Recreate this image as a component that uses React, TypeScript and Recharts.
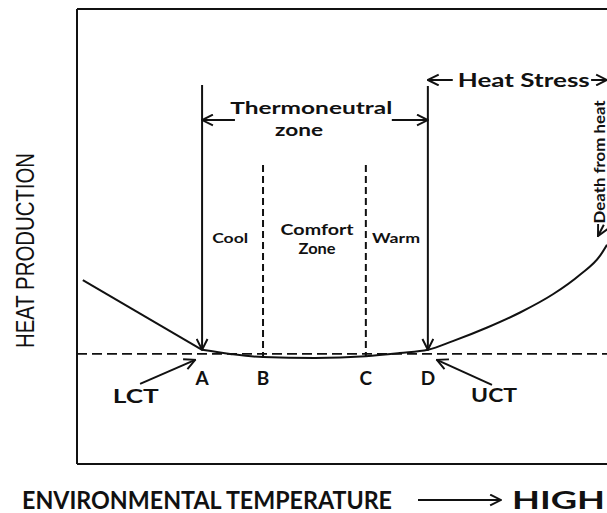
import { LineChart, Line, XAxis, YAxis, ReferenceLine, ReferenceDot, Label } from 'recharts'

// temperature index 0-100 (low -> high), heat production index 0-100
const coldSide = [
  { temp: 1.1, heat: 40.4 },
  { temp: 23.6, heat: 25.1 },
]

const neutralAndHot = [
  { temp: 23.6, heat: 25.1 },
  { temp: 28.9, heat: 24.2 },
  { temp: 35.1, heat: 23.5 },
  { temp: 44.9, heat: 23.3 },
  { temp: 54.5, heat: 23.7 },
  { temp: 60.9, heat: 24.4 },
  { temp: 66.2, heat: 25.1 },
  { temp: 70.9, heat: 27.0 },
  { temp: 77.4, heat: 30.0 },
  { temp: 83.6, heat: 33.3 },
  { temp: 89.8, heat: 37.3 },
  { temp: 94.9, heat: 41.6 },
  { temp: 98.7, heat: 45.8 },
  { temp: 100, heat: 48.2 },
]

const pointNames = ['A', 'B', 'C', 'D']
const pointTemps = [23.6, 35.1, 54.5, 66.2]
const pointHeats = [25.1, 23.5, 23.7, 25.1]
const baselineHeat = 24.2

const font = 'Lato, "Open Sans", sans-serif'

function tag(
  key: string,
  x: number,
  y: number,
  text: string,
  size: number,
  width?: number,
  angle?: number,
) {
  return (
    <ReferenceDot
      key={key}
      x={x}
      y={y}
      r={0}
      fill="none"
      stroke="none"
      ifOverflow="visible"
      label={
        <Label
          value={text}
          position="center"
          fontSize={size}
          fontWeight={700}
          fontFamily={font}
          fill="#111"
          angle={angle}
          textLength={width}
          lengthAdjust="spacingAndGlyphs"
        />
      }
    />
  )
}

function arrow(key: string, x1: number, y1: number, x2: number, y2: number, dashed = false) {
  return (
    <ReferenceLine
      key={key}
      segment={[
        { x: x1, y: y1 },
        { x: x2, y: y2 },
      ]}
      stroke="#111"
      strokeWidth={2}
      strokeDasharray={dashed ? '7 4' : undefined}
      ifOverflow="visible"
      markerEnd={dashed ? undefined : 'url(#openHead)'}
    />
  )
}

const xTitle = (props: any) => {
  const { x, y } = props.viewBox
  return (
    <g fontFamily={font} fontWeight={700} fill="#111">
      <text x={x - 55} y={y + 45} fontSize={24} textLength={370} lengthAdjust="spacingAndGlyphs">
        ENVIRONMENTAL TEMPERATURE
      </text>
      <line x1={x + 341} y1={y + 36} x2={x + 424} y2={y + 36} stroke="#111" strokeWidth={2} markerEnd="url(#openHead)" />
      <text x={x + 435} y={y + 45} fontSize={24} textLength={93} lengthAdjust="spacingAndGlyphs">
        HIGH
      </text>
    </g>
  )
}

const yTitle = (props: any) => {
  const { x, y, height } = props.viewBox
  const cx = x + 25
  const cy = y + height / 2 + 14
  return (
    <text
      x={cx}
      y={cy}
      transform={`rotate(-90 ${cx} ${cy})`}
      textAnchor="middle"
      dominantBaseline="central"
      fontFamily='"Liberation Sans", Arial, sans-serif'
      fontSize={25}
      fill="#111"
      textLength={195}
      lengthAdjust="spacingAndGlyphs"
    >
      HEAT PRODUCTION
    </text>
  )
}

export default function App() {
  return (
    <div style={{ position: 'absolute', left: 0, top: 0, background: '#fff' }}>
      <LineChart width={607} height={513} margin={{ top: 9, right: 0, bottom: 0, left: 0 }}>
        <defs>
          <marker
            id="openHead"
            viewBox="0 0 12 12"
            refX={11}
            refY={6}
            markerWidth={13}
            markerHeight={13}
            markerUnits="userSpaceOnUse"
            orient="auto"
          >
            <path d="M1,1 L11,6 L1,11" fill="none" stroke="#111" strokeWidth={1.8} />
          </marker>
        </defs>
        <XAxis
          type="number"
          dataKey="temp"
          domain={[0, 100]}
          allowDataOverflow
          height={49}
          tick={false}
          tickLine={false}
          axisLine={{ stroke: '#111', strokeWidth: 2 }}
          label={{ content: xTitle }}
        />
        <YAxis
          type="number"
          dataKey="heat"
          domain={[0, 100]}
          allowDataOverflow
          width={77}
          tick={false}
          tickLine={false}
          axisLine={{ stroke: '#111', strokeWidth: 2 }}
          label={{ content: yTitle }}
        />
        <ReferenceLine y={100} stroke="#111" strokeWidth={1.8} />
        <ReferenceLine y={baselineHeat} stroke="#111" strokeWidth={1.6} strokeDasharray="10 5" />

        {/* zone boundaries */}
        {arrow('lineA', pointTemps[0], 83.3, pointTemps[0], pointHeats[0])}
        {arrow('lineD', pointTemps[3], 83.1, pointTemps[3], pointHeats[3])}
        {arrow('lineB', pointTemps[1], 65.7, pointTemps[1], pointHeats[1], true)}
        {arrow('lineC', pointTemps[2], 65.7, pointTemps[2], pointHeats[2], true)}

        {/* thermoneutral and heat stress spans */}
        {arrow('tnLeft', 29.8, 75.6, pointTemps[0], 75.6)}
        {arrow('tnRight', 59.4, 75.6, pointTemps[3], 75.6)}
        {arrow('hsLeft', 70.9, 84.4, pointTemps[3], 84.4)}
        {arrow('hsRight', 97.0, 84.4, 100, 84.4)}

        {/* threshold pointers */}
        {arrow('lct', 11.9, 17.6, 22.3, 22.9)}
        {arrow('uct', 78.3, 17.4, 67.9, 22.9)}
        {arrow('death', 99.4, 52.6, 98.3, 50.1)}

        <Line data={coldSide} dataKey="heat" type="linear" stroke="#111" strokeWidth={2} dot={false} isAnimationActive={false} />
        <Line data={neutralAndHot} dataKey="heat" type="monotone" stroke="#111" strokeWidth={2} dot={false} isAnimationActive={false} />

        {tag('tn', 44.2, 78.2, 'Thermoneutral', 17, 162)}
        {tag('tnz', 41.9, 73.4, 'zone', 17, 48)}
        {tag('hs', 84.3, 84.4, 'Heat Stress', 19, 132)}
        {tag('death-t', 98.7, 66.4, 'Death from heat', 15, 123, -90)}
        {tag('cool', 28.9, 49.7, 'Cool', 14, 36)}
        {tag('comfort', 45.3, 51.6, 'Comfort', 16, 73)}
        {tag('zone2', 45.3, 47.3, 'Zone', 15, 37)}
        {tag('warm', 60.2, 49.7, 'Warm', 14, 48)}
        {pointNames.map((n, i) => tag('pt' + n, pointTemps[i], 18.9, n, 19))}
        {tag('lctT', 11.1, 14.9, 'LCT', 19, 46)}
        {tag('uctT', 78.7, 15.2, 'UCT', 19, 46)}
      </LineChart>
    </div>
  )
}
